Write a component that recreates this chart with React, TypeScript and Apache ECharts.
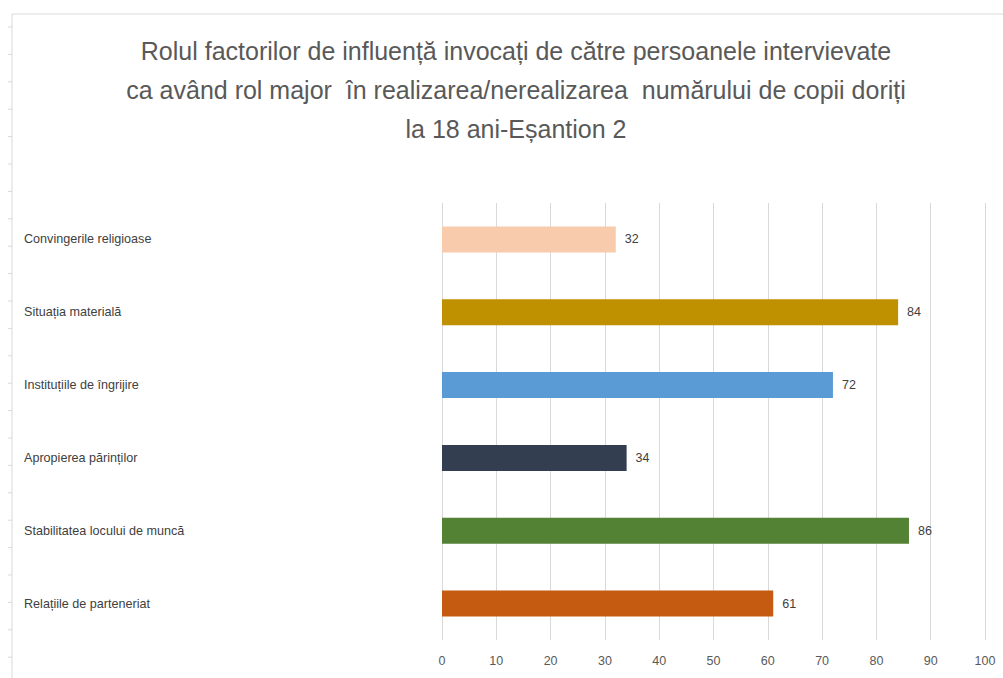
import React, { useEffect, useRef } from "react";
import * as echarts from "echarts";

const titleLines = [
  "Rolul factorilor de influență invocați de către persoanele intervievate",
  "ca având rol major  în realizarea/nerealizarea  numărului de copii doriți",
  "la 18 ani-Eșantion 2",
];
const categories = [
  "Convingerile religioase",
  "Situația materială",
  "Instituțiile de îngrijire",
  "Apropierea părinților",
  "Stabilitatea locului de muncă",
  "Relațiile de parteneriat",
];
const values = [32, 84, 72, 34, 86, 61];
const barColors = ["#F8CBAD", "#BF9000", "#5B9BD5", "#333F50", "#548235", "#C55A11"];
const xTicks = [0, 10, 20, 30, 40, 50, 60, 70, 80, 90, 100];

const FONT = "'Liberation Sans', Arial, sans-serif";

export default function App() {
  const ref = useRef<HTMLDivElement>(null);
  useEffect(() => {
    if (!ref.current) return;
    const chart = echarts.init(ref.current, null, { renderer: "svg" });
    const frame: any[] = [
      { type: "line", shape: { x1: 12, y1: 14, x2: 1003, y2: 14 }, style: { stroke: "#d9d9d9", lineWidth: 1 } },
      { type: "line", shape: { x1: 12, y1: 14, x2: 12, y2: 678 }, style: { stroke: "#d9d9d9", lineWidth: 1 } },
    ];
    for (let y = 27; y < 678; y += 27.4) {
      frame.push({ type: "line", shape: { x1: 8, y1: y, x2: 12, y2: y }, style: { stroke: "#d9d9d9", lineWidth: 1 } });
    }
    chart.setOption({
      animation: false,
      backgroundColor: "#ffffff",
      title: {
        text: titleLines.join("\n"),
        left: 511,
        textAlign: "center",
        top: 26,
        textStyle: {
          fontFamily: FONT,
          fontSize: 25,
          fontWeight: "normal",
          color: "#595959",
          lineHeight: 39,
        },
      },
      graphic: frame,
      grid: { left: 442, right: 18, top: 203, bottom: 38, containLabel: false },
      xAxis: {
        type: "value",
        min: xTicks[0],
        max: xTicks[xTicks.length - 1],
        interval: 10,
        axisLine: { show: false },
        axisTick: { show: false },
        splitLine: { lineStyle: { color: "#d9d9d9", width: 1 } },
        axisLabel: { color: "#595959", fontSize: 12.5, fontFamily: FONT, margin: 14 },
      },
      yAxis: {
        type: "category",
        data: categories,
        inverse: true,
        axisLine: { show: false },
        axisTick: { show: false },
        axisLabel: {
          color: "#404040",
          fontSize: 12.6,
          fontFamily: FONT,
          align: "left",
          margin: 418,
        },
      },
      series: [
        {
          type: "bar",
          barWidth: 26,
          data: values.map((v, i) => ({ value: v, itemStyle: { color: barColors[i] } })),
          label: {
            show: true,
            position: "right",
            distance: 9,
            color: "#404040",
            fontSize: 12.5,
            fontFamily: FONT,
          },
        },
      ],
    });
    return () => chart.dispose();
  }, []);
  return <div ref={ref} style={{ position: "fixed", left: 0, top: 0, width: 1003, height: 678 }} />;
}
